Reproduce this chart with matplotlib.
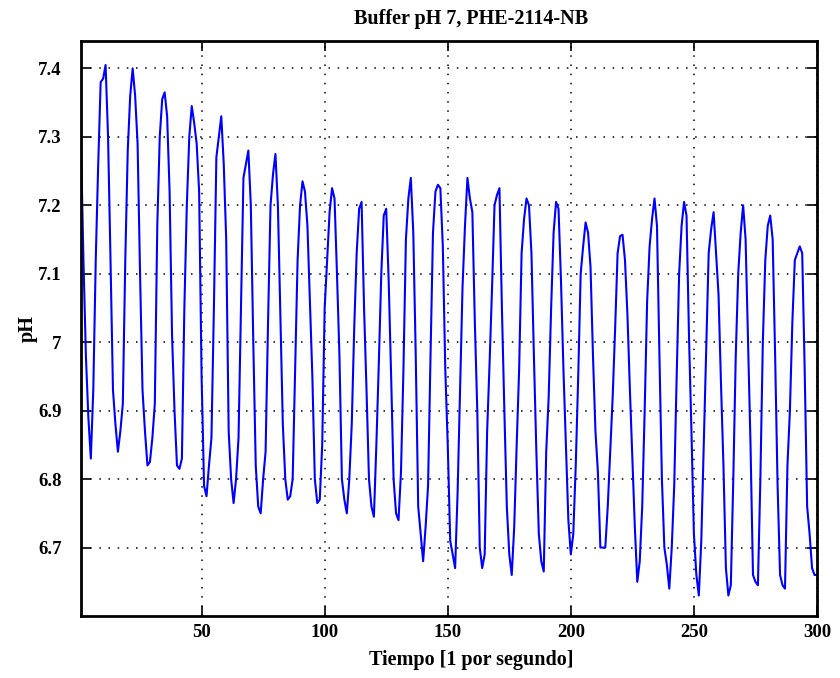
import numpy as np
import matplotlib
matplotlib.use("Agg")
import matplotlib.pyplot as plt
from matplotlib.ticker import FuncFormatter

# Lecturas de pH (una por segundo), estimadas de la figura
ph = [
    7.29, 7.12, 6.98, 6.89, 6.83, 6.93, 7.12, 7.26, 7.38, 7.385,
    7.405, 7.30, 7.12, 6.93, 6.88, 6.84, 6.87, 6.91, 7.12, 7.28,
    7.36, 7.40, 7.36, 7.29, 7.10, 6.93, 6.87, 6.82, 6.825, 6.86,
    6.91, 7.17, 7.30, 7.355, 7.365, 7.33, 7.22, 7.01, 6.90, 6.82,
    6.815, 6.83, 7.05, 7.20, 7.30, 7.345, 7.32, 7.29, 7.22, 6.95,
    6.79, 6.775, 6.82, 6.86, 7.05, 7.27, 7.30, 7.33, 7.26, 7.15,
    6.87, 6.80, 6.765, 6.80, 6.86, 7.05, 7.24, 7.26, 7.28, 7.20,
    7.00, 6.82, 6.76, 6.75, 6.80, 6.84, 7.03, 7.20, 7.245, 7.275,
    7.20, 7.04, 6.88, 6.80, 6.77, 6.775, 6.80, 6.96, 7.12, 7.20,
    7.235, 7.22, 7.17, 7.06, 6.95, 6.80, 6.765, 6.77, 6.85, 7.05,
    7.12, 7.19, 7.225, 7.21, 7.10, 6.98, 6.80, 6.77, 6.75, 6.80,
    6.88, 7.02, 7.13, 7.195, 7.205, 7.05, 6.93, 6.80, 6.76, 6.745,
    6.85, 6.97, 7.10, 7.185, 7.195, 7.09, 6.95, 6.80, 6.75, 6.74,
    6.81, 6.96, 7.15, 7.21, 7.24, 7.16, 6.98, 6.76, 6.72, 6.68,
    6.73, 6.79, 6.98, 7.16, 7.22, 7.23, 7.225, 7.14, 6.96, 6.85,
    6.71, 6.69, 6.67, 6.78, 6.93, 7.08, 7.17, 7.24, 7.21, 7.19,
    7.03, 6.90, 6.70, 6.67, 6.69, 6.87, 6.97, 7.08, 7.20, 7.215,
    7.225, 7.05, 6.90, 6.76, 6.69, 6.66, 6.73, 6.85, 6.96, 7.13,
    7.18, 7.21, 7.20, 7.13, 6.98, 6.84, 6.72, 6.68, 6.665, 6.84,
    6.92, 7.05, 7.16, 7.205, 7.195, 7.09, 6.96, 6.85, 6.74, 6.69,
    6.72, 6.82, 6.95, 7.10, 7.14, 7.175, 7.16, 7.11, 6.98, 6.87,
    6.81, 6.70, 6.70, 6.70, 6.76, 6.84, 6.92, 7.02, 7.13, 7.155,
    7.157, 7.12, 7.04, 6.93, 6.83, 6.73, 6.65, 6.68, 6.76, 6.90,
    7.06, 7.14, 7.18, 7.21, 7.17, 6.98, 6.80, 6.70, 6.675, 6.64,
    6.70, 6.79, 6.95, 7.10, 7.17, 7.205, 7.185, 7.01, 6.87, 6.72,
    6.66, 6.63, 6.71, 6.85, 6.99, 7.13, 7.165, 7.19, 7.13, 7.07,
    6.94, 6.82, 6.67, 6.63, 6.645, 6.80, 6.98, 7.10, 7.16, 7.20,
    7.15, 7.00, 6.85, 6.66, 6.65, 6.645, 6.80, 7.00, 7.12, 7.17,
    7.185, 7.15, 6.98, 6.79, 6.66, 6.645, 6.64, 6.82, 6.90, 7.03,
    7.12, 7.13, 7.14, 7.13, 6.96, 6.76, 6.72, 6.67, 6.66, 6.66,
]
tiempo = np.arange(1, len(ph) + 1)

xticks = [50, 100, 150, 200, 250, 300]
yticks = [6.7, 6.8, 6.9, 7.0, 7.1, 7.2, 7.3, 7.4]

plt.rcParams['font.family'] = ['Liberation Serif', 'DejaVu Serif']
plt.rcParams['font.weight'] = 'bold'

fig = plt.figure(figsize=(8.4, 6.78), dpi=100)
ax = fig.add_axes([0.0964, 0.0914, 0.8762, 0.8481])

ax.plot(tiempo, ph, color=(0, 0, 1), linewidth=1.5)

ax.set_xlim(1, 300)
ax.set_ylim(6.6, 7.44)
ax.set_xticks(xticks)
ax.set_yticks(yticks)
ax.yaxis.set_major_formatter(FuncFormatter(lambda v, p: '%g' % round(v, 2)))

ax.grid(True, color='black', linestyle=(0, (1, 5)), linewidth=1.1)
ax.tick_params(direction='in', length=7, width=1.2, top=True, right=True,
               labelsize=13.5)
ax.tick_params(axis='x', pad=6)
ax.tick_params(axis='y', pad=14)
for lbl in ax.get_xticklabels() + ax.get_yticklabels():
    lbl.set_fontweight('bold')
for s in ax.spines.values():
    s.set_linewidth(2)

ax.set_title('Buffer pH 7, PHE-2114-NB', fontsize=14.5, fontweight='bold',
             pad=12, x=0.53)
ax.set_xlabel('Tiempo [1 por segundo]', fontsize=14.5, fontweight='bold',
              labelpad=6, x=0.53)
ax.set_ylabel('pH', fontsize=14.5, fontweight='bold', labelpad=0)

fig.savefig('out.png', dpi=100)
